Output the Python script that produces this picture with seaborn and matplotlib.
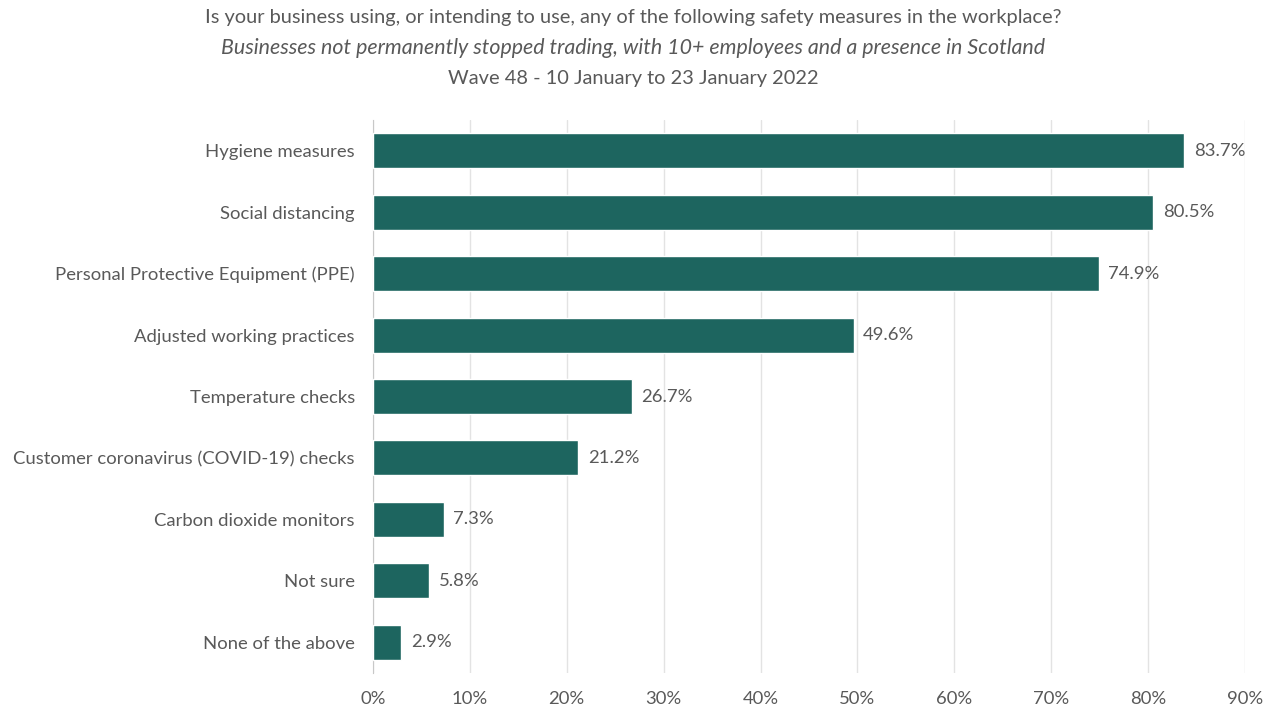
import matplotlib
matplotlib.use("Agg")
import matplotlib.pyplot as plt
import seaborn as sns
import pandas as pd
from matplotlib.ticker import FuncFormatter

measures = [
    "Hygiene measures",
    "Social distancing",
    "Personal Protective Equipment (PPE)",
    "Adjusted working practices",
    "Temperature checks",
    "Customer coronavirus (COVID-19) checks",
    "Carbon dioxide monitors",
    "Not sure",
    "None of the above",
]
percent = [83.7, 80.5, 74.9, 49.6, 26.7, 21.2, 7.3, 5.8, 2.9]
xticks = [0, 10, 20, 30, 40, 50, 60, 70, 80, 90]

df = pd.DataFrame({"measure": measures, "pct": percent})

sns.set_style("white")
plt.rcParams["font.family"] = ["Lato", "DejaVu Sans"]
grey = "#595959"
bar_col = "#1d655f"

fig = plt.figure(figsize=(12.66, 7.08), dpi=100)
ax = fig.add_axes([0.2946, 0.0494, 0.6888, 0.7811])

sns.barplot(data=df, x="pct", y="measure", color=bar_col, width=0.57,
            saturation=1, ax=ax, zorder=3)

for i, v in enumerate(percent):
    ax.text(v + 1.0, i, f"{v:.1f}%", va="center", ha="left",
            fontsize=13.3, color=grey)

ax.set_xlim(0, 90)
ax.set_ylim(8.5, -0.5)
ax.set_xticks(xticks)
ax.xaxis.set_major_formatter(FuncFormatter(lambda x, p: f"{x:.0f}%"))
ax.grid(axis="x", color="#e3e3e3", linewidth=1, zorder=0)
ax.set_xlabel("")
ax.set_ylabel("")
ax.tick_params(axis="x", labelsize=13.3, labelcolor=grey, length=0, pad=13)
ax.tick_params(axis="y", labelsize=13.3, labelcolor=grey, length=0, pad=13)
for s in ["top", "right", "bottom"]:
    ax.spines[s].set_visible(False)
ax.spines["left"].set_color("#c8c8c8")

fig.text(0.5, 0.975, "Is your business using, or intending to use, any of the following safety measures in the workplace?",
         ha="center", va="center", fontsize=14.4, color=grey)
fig.text(0.5, 0.932, "Businesses not permanently stopped trading, with 10+ employees and a presence in Scotland",
         ha="center", va="center", fontsize=15.4, color=grey, style="italic")
fig.text(0.5, 0.889, "Wave 48 - 10 January to 23 January 2022",
         ha="center", va="center", fontsize=14.4, color=grey)

fig.savefig("out.png", dpi=100)
